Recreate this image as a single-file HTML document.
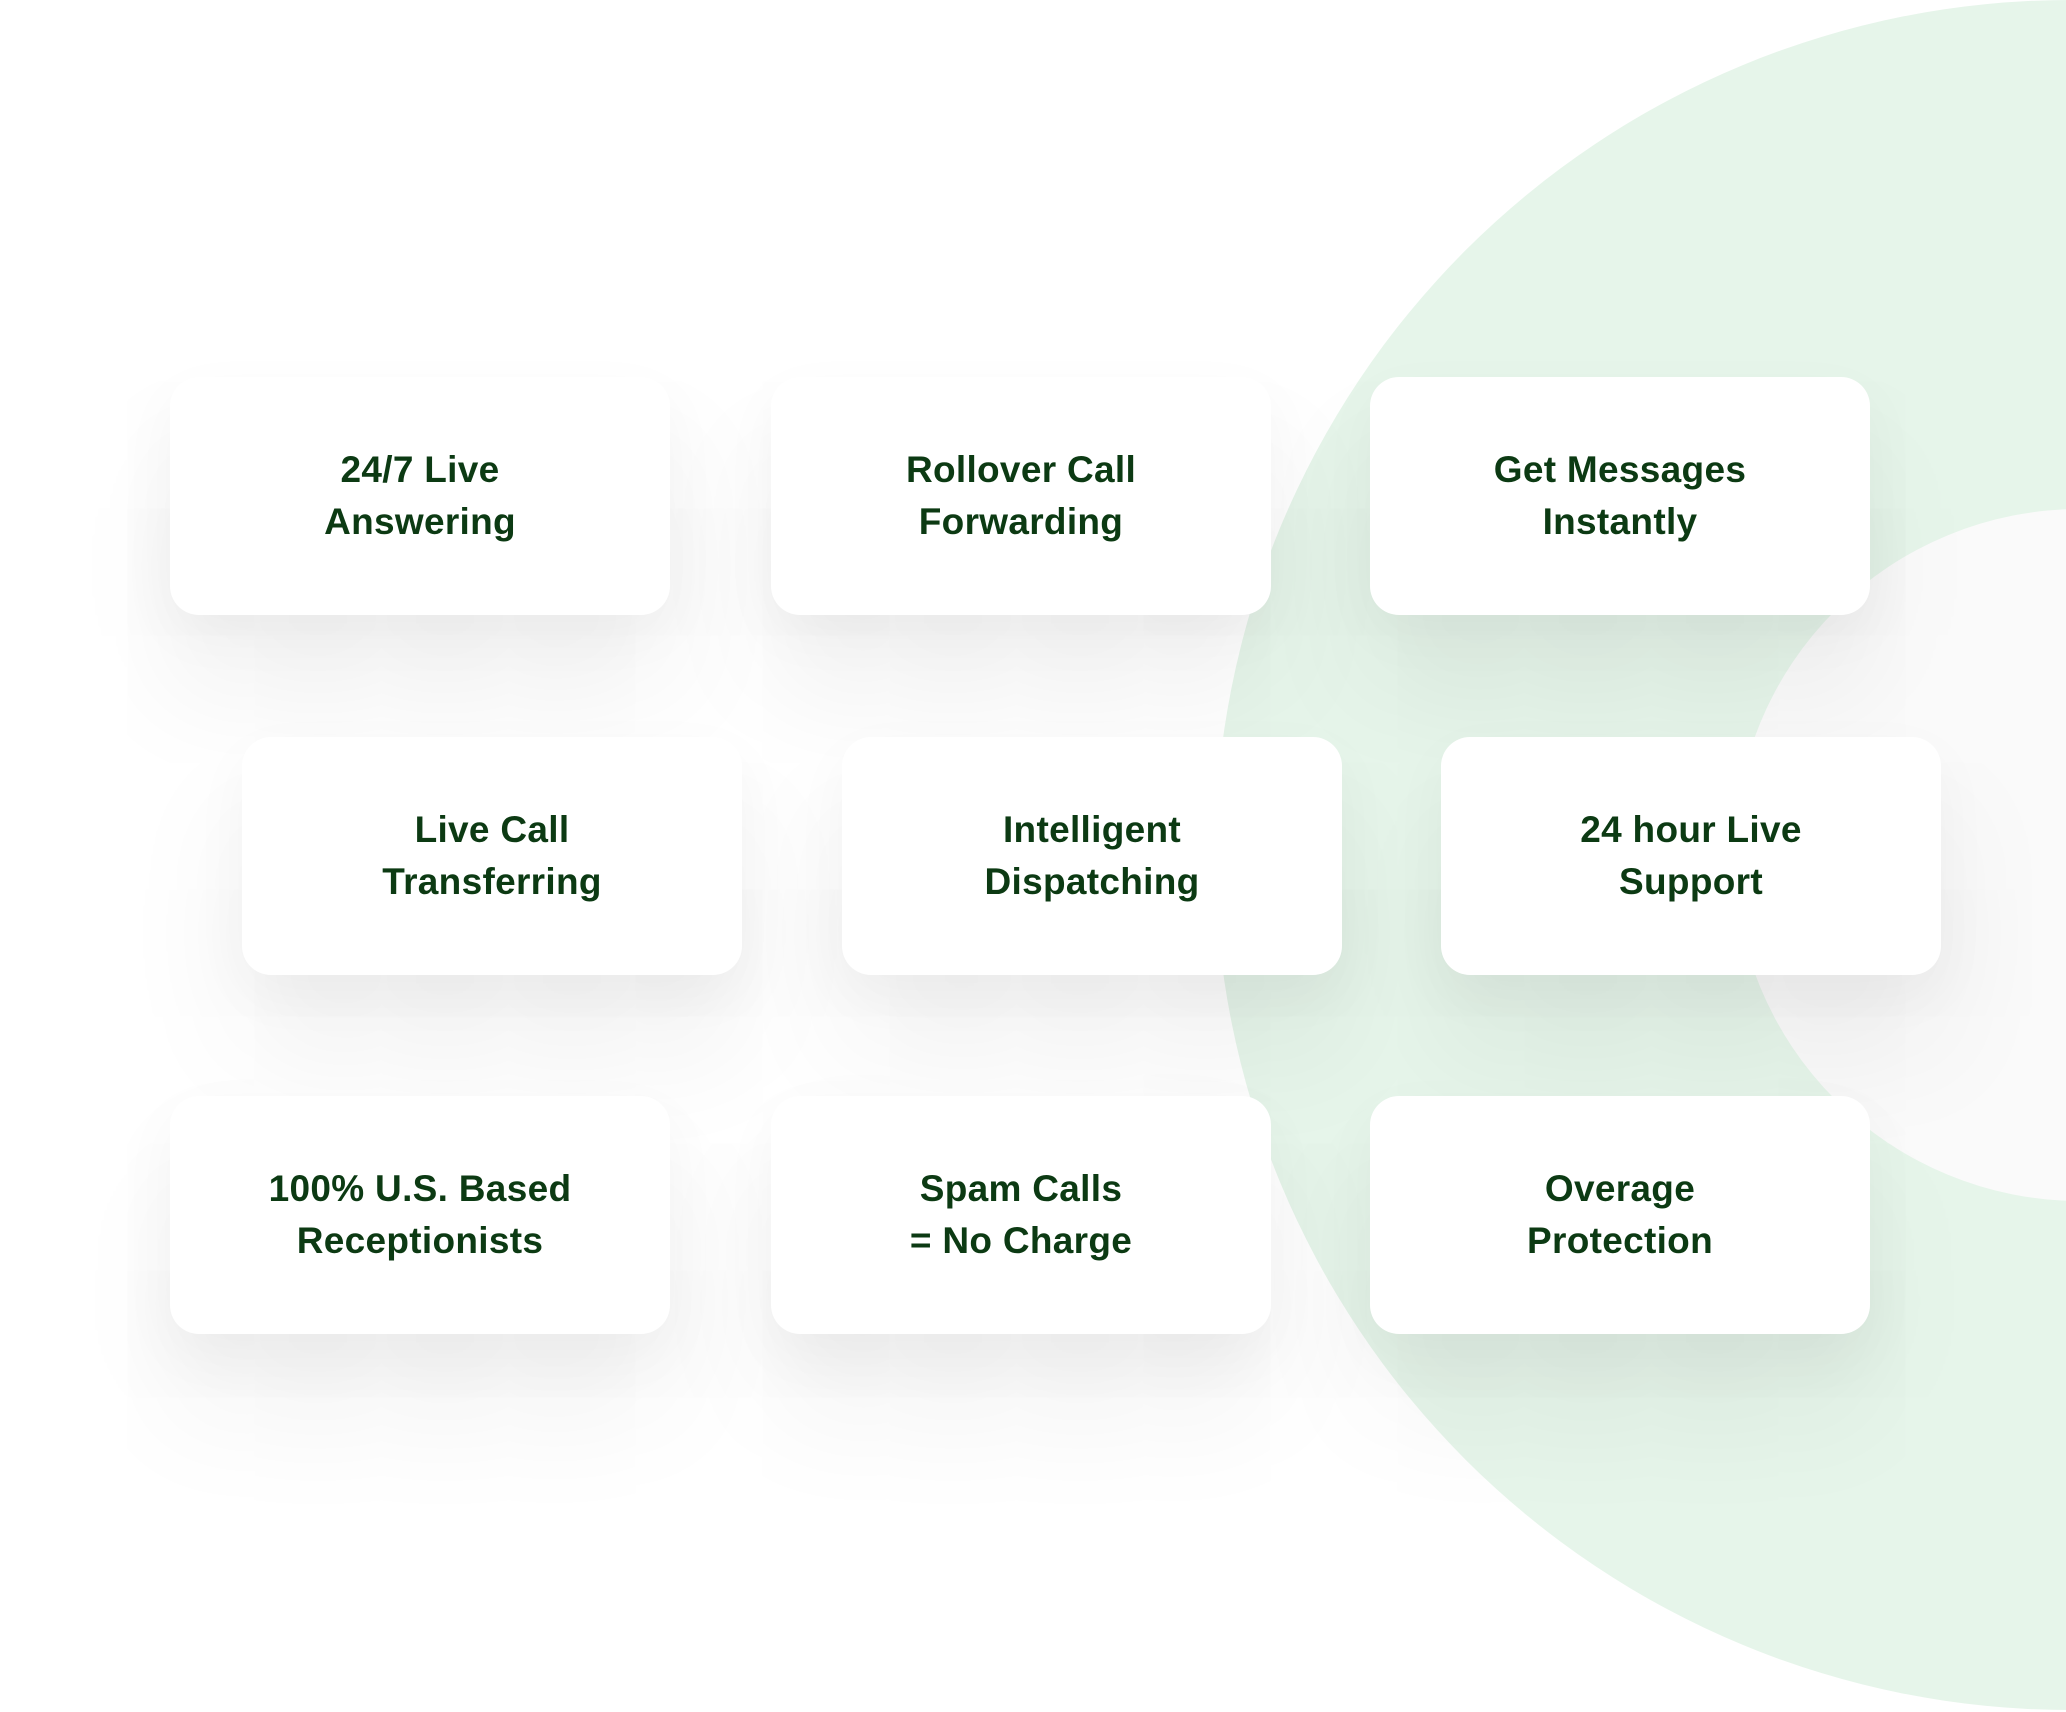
<!DOCTYPE html>
<html><head><meta charset="utf-8">
<style>
html,body{margin:0;padding:0}
body{width:2066px;height:1712px;position:relative;overflow:hidden;background:#fff;font-family:"Liberation Sans",sans-serif}
.c1{position:absolute;left:1215px;top:0;width:1710px;height:1710px;border-radius:50%;background:#e6f5ea}
.c2{position:absolute;left:1734px;top:509px;width:692px;height:692px;border-radius:50%;background:#fafafa}
.card{position:absolute;width:500px;height:238px;border-radius:29px;background:#fff;
box-shadow:0 70px 140px rgba(0,0,0,0.075),0 20px 60px rgba(0,0,0,0.035);
display:flex;align-items:center;justify-content:center;text-align:center;
color:#0c3a13;font-weight:bold;font-size:37px;line-height:52px;letter-spacing:0.3px}
</style></head><body>
<div class="c1"></div><div class="c2"></div>
<div class="card" style="left:170px;top:377px">24/7 Live<br>Answering</div>
<div class="card" style="left:771px;top:377px">Rollover Call<br>Forwarding</div>
<div class="card" style="left:1370px;top:377px">Get Messages<br>Instantly</div>
<div class="card" style="left:242px;top:737px">Live Call<br>Transferring</div>
<div class="card" style="left:842px;top:737px">Intelligent<br>Dispatching</div>
<div class="card" style="left:1441px;top:737px">24 hour Live<br>Support</div>
<div class="card" style="left:170px;top:1096px">100% U.S. Based<br>Receptionists</div>
<div class="card" style="left:771px;top:1096px">Spam Calls<br>= No Charge</div>
<div class="card" style="left:1370px;top:1096px">Overage<br>Protection</div>
</body></html>
